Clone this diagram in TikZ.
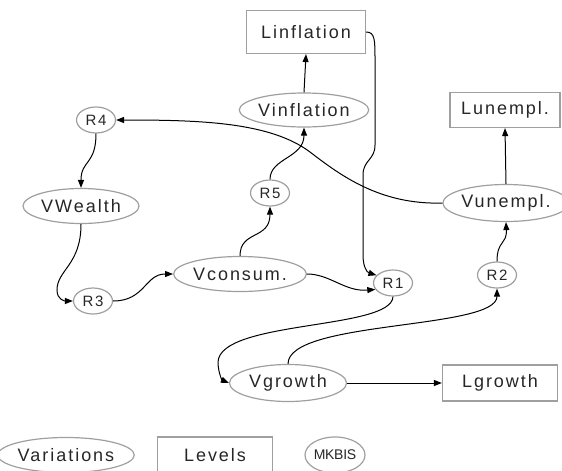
\documentclass[tikz,border=0pt]{standalone}
\usepackage{fontspec}
\setmainfont[LetterSpace=11]{Liberation Sans}
\usetikzlibrary{shapes,calc}
\usetikzlibrary{arrows.meta}
\tikzset{
    varEll/.style={
    ,   ellipse
    ,   draw=gray!75
    ,   line width=1.2pt
    ,   minimum width=116pt
    ,   minimum height=35pt
    ,   inner sep=0pt
    ,   text=black!85
    ,   font=\fontsize{18pt}{19pt}\selectfont
    },
    levBox/.style={
    ,   rectangle
    ,   draw=gray!75
    ,   line width=1.2pt
    ,   minimum width=115pt
    ,   minimum height=36pt
    ,   inner sep=0pt
    ,   text=black!85
    ,   font=\fontsize{18pt}{19pt}\selectfont
    },
    relCirc/.style={
    ,   ellipse
    ,   draw=gray!75
    ,   line width=1.2pt
    ,   minimum width=39pt
    ,   minimum height=26pt
    ,   inner sep=0pt
    ,   text=black!85
    ,   font=\fontsize{15pt}{16pt}\selectfont
    },
    edgeArr/.style={
    ,   draw=black
    ,   line width=1pt
    ,   -{Triangle[length=8pt,width=6pt]}
    }
}

\begin{document}
\begin{tikzpicture}[x=1pt, y=-1pt]
	\useasboundingbox (0,0) rectangle (562,471);

	% levels
	\node[levBox, minimum width=119pt, minimum height=43pt] (Linfl) at (306,32) {Linflation};
	\node[levBox, minimum width=110pt, minimum height=35pt] (Lunem) at (505,110) {Lunempl.};
	\node[levBox] (Lgrow) at (500,383) {Lgrowth};

	% variations
	\node[varEll, minimum height=34pt] (Vinfl) at (304,110) {Vinflation};
	\node[varEll] (Vwealth) at (81,206) {VWealth};
	\node[varEll, minimum width=112pt, minimum height=37pt] (Vunem) at (506,203) {Vunempl.};
	\node[varEll] (Vcons) at (240,274) {Vconsum.};
	\node[varEll, minimum width=117pt, minimum height=37pt] (Vgrow) at (288,383) {Vgrowth};

	% relations
	\node[relCirc] (R4) at (96,120) {R4};
	\node[relCirc] (R5) at (270,193) {R5};
	\node[relCirc] (R3) at (93,301) {R3};
	\node[relCirc] (R1) at (393,283) {R1};
	\node[relCirc] (R2) at (497,275) {R2};

	% legend
	\node[varEll] (legVar) at (66,455) {Variations};
	\node[levBox] (legLev) at (215,455) {Levels};
	\node[relCirc, minimum width=54pt, minimum height=36pt, font=\fontsize{14pt}{15pt}\selectfont\addfontfeature{LetterSpace=-2}] (legRel) at (335,455) {MKBIS};

	% edges
	\draw[edgeArr] (Vinfl.north) -- (Linfl.south);
	\draw[edgeArr] (Vunem.north) -- (Lunem.south);
	\draw[edgeArr] (Vgrow.east) -- (Lgrow.west);
	\draw[edgeArr] (R5.north) .. controls (270,158) and (304,158) .. (Vinfl.south);
	\draw[edgeArr] (Vcons.north) .. controls (240,230) and (270,240) .. (R5.south);
	\draw[edgeArr] (R4.south) .. controls (96,165) and (81,160) .. (Vwealth.north);
	\draw[edgeArr] (Vwealth.south) .. controls (81,265) and (57,270) .. (57,290)
		.. controls (57,300) and (65,301) .. (R3.west);
	\draw[edgeArr] (R3.east) .. controls (145,301) and (145,274) .. (Vcons.west);
	\draw[edgeArr] (Vcons.east) .. controls (330,274) and (345,292) .. (R1.200);
	\draw[edgeArr] (Linfl.east) .. controls (375,32) and (375,40) .. (375,60) -- (375,145)
		.. controls (375,160) and (363,160) .. (363,175) -- (363,255)
		.. controls (363,265) and (366,272) .. (R1.155);
	\draw[edgeArr] (R1.south) .. controls (392,330) and (220,320) .. (218,362)
		.. controls (218,372) and (222,380) .. (Vgrow.west);
	\draw[edgeArr] (Vgrow.north) .. controls (288,320) and (497,330) .. (R2.south);
	\draw[edgeArr] (R2.north) .. controls (497,240) and (507,245) .. (Vunem.south);
	\draw[edgeArr] (Vunem.west) .. controls (380,205) and (340,175) .. (310,152)
		.. controls (270,122) and (200,120) .. (R4.east);
\end{tikzpicture}
\end{document}
